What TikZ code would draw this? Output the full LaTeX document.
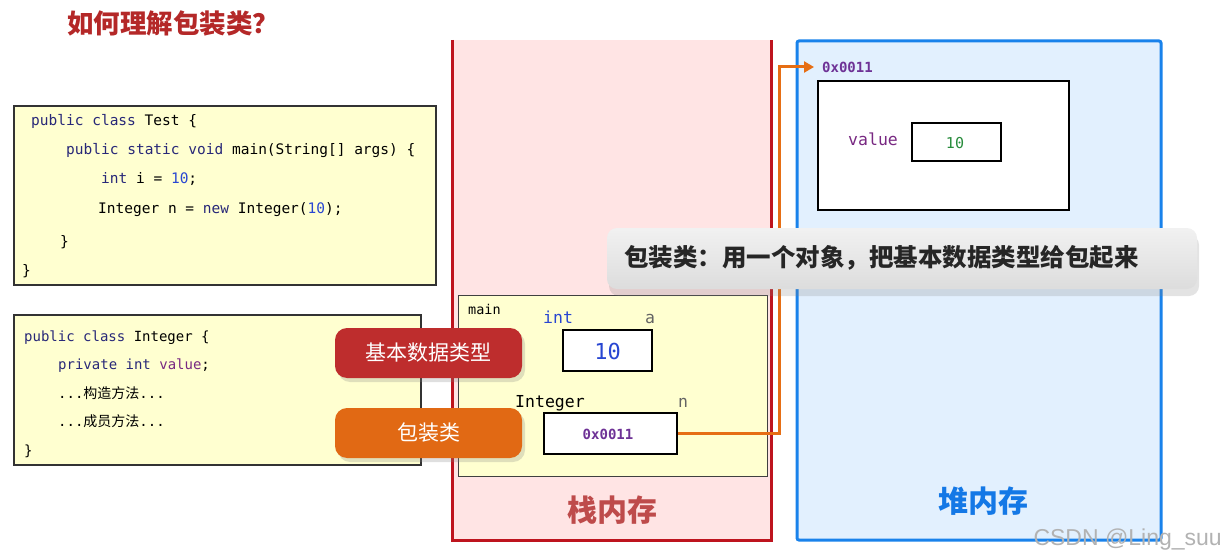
\documentclass[tikz,border=0pt]{standalone}
\usepackage{fontspec}
\setmonofont{DejaVu Sans Mono}
\newfontfamily\cjk{Noto Sans CJK SC}
\newfontfamily\wmfont{Liberation Sans}
\usetikzlibrary{arrows.meta,shadows}
\definecolor{titlered}{RGB}{180,40,40}
\definecolor{codebg}{RGB}{255,255,208}
\definecolor{kw}{RGB}{40,40,120}
\definecolor{numblue}{RGB}{40,70,210}
\definecolor{purp}{RGB}{120,40,130}
\definecolor{addrpurp}{RGB}{110,50,150}
\definecolor{stackfill}{RGB}{255,228,228}
\definecolor{stackline}{RGB}{190,20,30}
\definecolor{stacktext}{RGB}{190,75,75}
\definecolor{heapfill}{RGB}{226,240,254}
\definecolor{heapline}{RGB}{25,130,235}
\definecolor{heaptext}{RGB}{20,120,230}
\definecolor{btnred}{RGB}{190,45,45}
\definecolor{btnorange}{RGB}{225,105,20}
\definecolor{arroworange}{RGB}{230,110,20}
\definecolor{valgreen}{RGB}{40,140,60}
\definecolor{labelgray}{RGB}{100,100,100}
\definecolor{tipfill}{RGB}{232,232,232}
\tikzset{
  codebox/.style={draw=black!80, line width=1.5pt, fill=codebg, inner sep=0pt},
  codeA/.style={anchor=base west, inner sep=0pt, font=\fontsize{14.5}{16}\selectfont\ttfamily},
  codeB/.style={anchor=base west, inner sep=0pt, font=\fontsize{14}{16}\selectfont\ttfamily},
  valbox/.style={draw=black, line width=2pt, fill=white, inner sep=0pt},
  btn/.style={rounded corners=12pt, minimum width=187pt, minimum height=50pt, inner sep=0pt,
    text=white, font=\fontsize{21}{22}\selectfont\cjk,
    drop shadow={shadow xshift=3pt, shadow yshift=-4pt, opacity=0.25}},
  lbl/.style={inner sep=0pt, font=\fontsize{16.5}{18}\selectfont\ttfamily},
  memtitle/.style={inner sep=0pt, font=\fontsize{30}{32}\selectfont\cjk\bfseries},
}
\begin{document}
\begin{tikzpicture}[x=1pt,y=-1pt]
\useasboundingbox (0,0) rectangle (1224,559);
% title
\node[anchor=west, inner sep=0pt, text=titlered, font=\fontsize{26.5}{28}\selectfont\cjk\bfseries] (title) at (67,23) {如何理解包装类？};

% code box 1
\node[codebox, minimum width=422pt, minimum height=179pt] (code1) at (225,195.5) {};
\node[codeA] (c1l1) at (31,126) {\textcolor{kw}{public class} Test \{};
\node[codeA] (c1l2) at (66,155) {\textcolor{kw}{public static void} main(String[] args) \{};
\node[codeA] (c1l3) at (101,183) {\textcolor{kw}{int} i = \textcolor{numblue}{10};};
\node[codeA] (c1l4) at (98,213) {Integer n = \textcolor{kw}{new} Integer(\textcolor{numblue}{10});};
\node[codeA] (c1l5) at (60,246) {\}};
\node[codeA] (c1l6) at (22,275) {\}};

% code box 2
\node[codebox, minimum width=407pt, minimum height=150pt] (code2) at (217.5,390) {};
\node[codeB] (c2l1) at (24,341) {\textcolor{kw}{public class} Integer \{};
\node[codeB] (c2l2) at (58,369) {\textcolor{kw}{private int} \textcolor{purp}{value};};
\node[codeB] (c2l3) at (58,398) {...{\cjk 构造方法}...};
\node[codeB] (c2l4) at (58,426) {...{\cjk 成员方法}...};
\node[codeB] (c2l5) at (24,455) {\}};

% stack region
\fill[stackfill] (452,40) rectangle (771,540);
\draw[stackline, line width=3pt] (452,40) -- (452,540) -- (771,540) -- (771,40);
\node[draw=black!75, line width=1pt, fill=codebg, minimum width=309pt, minimum height=181pt, inner sep=0pt] (mainframe) at (612.5,385.5) {};
\node[anchor=base west, inner sep=0pt, font=\fontsize{13.5}{15}\selectfont\ttfamily] (mainlbl) at (468,314) {main};
\node[lbl, anchor=base west, text=numblue] (intlbl) at (543,323) {int};
\node[lbl, anchor=base west, text=labelgray] (albl) at (645,323) {a};
\node[valbox, minimum width=89pt, minimum height=41pt] (abox) at (607.5,350.5) {};
\node[inner sep=0pt, text=numblue, font=\fontsize{22}{24}\selectfont\ttfamily] (aval) at (607.5,351) {10};
\node[lbl, anchor=base west] (intglbl) at (515,407) {Integer};
\node[lbl, anchor=base west, text=labelgray] (nlbl) at (678,407) {n};
\node[valbox, minimum width=133pt, minimum height=41pt] (nbox) at (610.5,433.5) {};
\node[inner sep=0pt, text=addrpurp, font=\fontsize{14}{16}\selectfont\ttfamily\bfseries] (nval) at (608,434) {0x0011};
\node[memtitle, text=stacktext] (stacktitle) at (612,510) {栈内存};

% heap region
\draw[heapline, fill=heapfill, line width=3pt, rounded corners=2pt] (797,41) rectangle (1161,540);
\node[anchor=west, inner sep=0pt, text=addrpurp, font=\fontsize{14}{16}\selectfont\ttfamily\bfseries] (addr) at (822,67) {0x0011};
\node[valbox, minimum width=251pt, minimum height=129pt] (obj) at (943.5,145.5) {};
\node[lbl, anchor=base west, text=purp] (valuelbl) at (848,146) {value};
\node[valbox, line width=1.5pt, minimum width=89pt, minimum height=38pt] (vbox) at (956.5,142) {};
\node[inner sep=0pt, text=valgreen, font=\fontsize{15}{16}\selectfont\ttfamily] (vval) at (955,143) {10};
\node[memtitle, text=heaptext] (heaptitle) at (983,501) {堆内存};

% reference arrow
\coordinate (bend) at (779,67);
\draw[arroworange, line width=3pt, -{Triangle[length=10pt,width=11pt]}, shorten >=8pt] (nbox.east) -| (bend) -- (addr.west);

% buttons
\node[btn, fill=btnred] (btnbasic) at (428.5,353) {基本数据类型};
\node[btn, fill=btnorange] (btnwrap) at (428.5,433) {包装类};

% tooltip
\node[rounded corners=10pt, minimum width=590pt, minimum height=61pt, inner sep=0pt,
  top color=tipfill!60!white, bottom color=tipfill!95!black,
  drop shadow={shadow xshift=2pt, shadow yshift=-7pt, opacity=0.22}] (tip) at (902,258.5) {};
\node[anchor=west, inner sep=0pt, text=black!85, font=\fontsize{24.5}{26}\selectfont\cjk\bfseries] (tiptext) at (624,258) {包装类：用一个对象，把基本数据类型给包起来};

% watermark
\node[anchor=east, inner sep=0pt, text=black!30, font=\fontsize{23}{25}\selectfont\wmfont] (wm) at (1222,540) {CSDN @Ling\_suu};
\end{tikzpicture}
\end{document}
